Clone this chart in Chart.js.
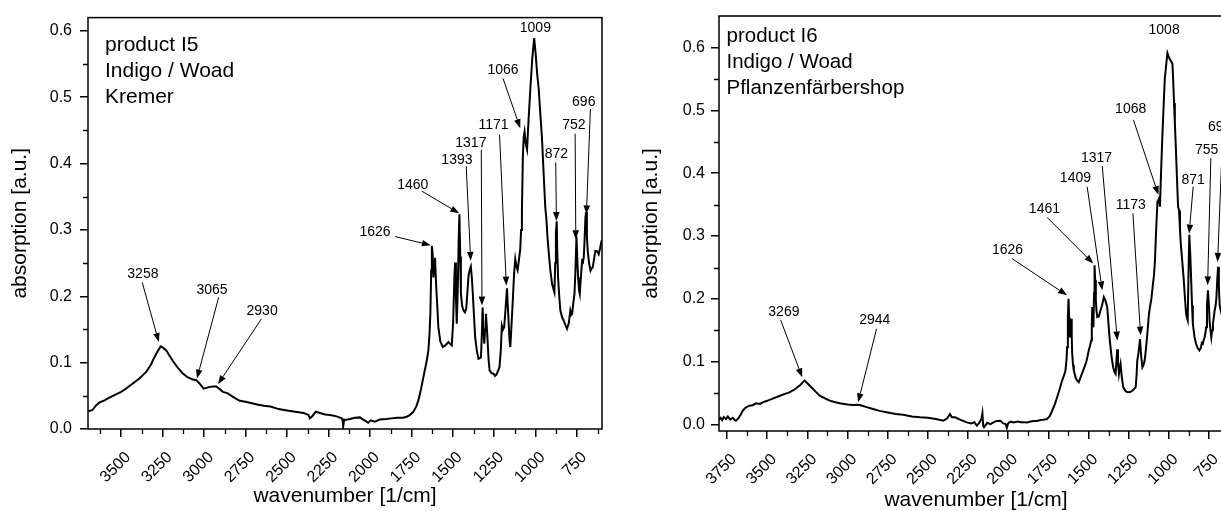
<!DOCTYPE html>
<html><head><meta charset="utf-8">
<script src="https://cdn.jsdelivr.net/npm/chart.js@4.4.1/dist/chart.umd.min.js"></script>
<style>
html,body{margin:0;padding:0;background:#fff;width:1221px;height:511px;overflow:hidden;position:relative;}
.wrap{position:absolute;top:0;height:511px;width:610px;}
#w1{left:0}
#w2{left:631px}
canvas{display:block}
</style></head><body>
<div class="wrap" id="w1"><canvas id="c1" width="610" height="511"></canvas></div>
<div class="wrap" id="w2"><canvas id="c2" width="610" height="511"></canvas></div>
<script>
// ---------- product I5 (Kremer) ----------
const i5Wavenumber = [
 3702,3690,3672,3650,3631,3600,3591,3550,3500,3470,
 3430,3390,3349,3320,3309,3285,3262,3250,3228,3210,
 3188,3160,3128,3100,3067,3047,3025,3003,2985,2966,
 2940,2926,2905,2886,2860,2825,2785,2750,2725,2680,
 2640,2600,2550,2500,2450,2400,2382,2370,2362,2345,
 2326,2300,2270,2241,2200,2170,2163,2161,2155,2150,
 2120,2090,2060,2040,2020,2010,1995,1970,1939,1900,
 1870,1838,1800,1778,1760,1738,1720,1707,1690,1677,
 1660,1647,1640,1635,1630,1626,1621,1617,1612,1607,
 1600,1593,1587,1575,1560,1545,1526,1515,1506,1498,
 1490,1486,1481,1476,1470,1464,1460,1455,1451,1443,
 1435,1427,1419,1412,1405,1398,1391,1385,1379,1372,
 1365,1355,1345,1337,1330,1325,1320,1315,1310,1305,
 1300,1295,1290,1284,1278,1265,1254,1245,1238,1228,
 1218,1210,1204,1197,1190,1182,1173,1165,1158,1153,
 1145,1137,1130,1123,1116,1109,1101,1093,1088,1083,
 1077,1072,1067,1060,1052,1042,1032,1020,1009,1000,
 991,982,972,962,952,942,936,929,922,912,
 901,894,887,882,878,873,870,865,858,851,
 840,831,820,811,800,791,785,780,773,766,
 760,754,748,744,739,734,727,720,715,710,
 705,700,696,691,686,678,669,662,656,648,
 640,630,620,612,605,600
];
const i5Absorption = [
 0.0275,0.027,0.029,0.036,0.040,0.043,0.0445,0.050,0.056,0.061,
 0.0685,0.076,0.086,0.097,0.1035,0.115,0.1245,0.123,0.1185,0.111,
 0.1025,0.093,0.0835,0.078,0.0745,0.0735,0.068,0.061,0.062,0.0635,
 0.064,0.064,0.060,0.056,0.054,0.0485,0.0425,0.041,0.0395,0.037,
 0.035,0.034,0.030,0.028,0.026,0.024,0.0225,0.021,0.016,0.020,
 0.026,0.024,0.022,0.021,0.019,0.016,0.012,0.0035,0.014,0.0135,
 0.015,0.017,0.0175,0.014,0.011,0.0095,0.013,0.011,0.0145,0.015,
 0.016,0.017,0.017,0.0185,0.021,0.026,0.034,0.0435,0.062,0.0785,
 0.099,0.1185,0.145,0.175,0.24,0.276,0.262,0.2285,0.245,0.258,
 0.215,0.1835,0.1535,0.132,0.1235,0.126,0.131,0.128,0.126,0.16,
 0.23,0.251,0.20,0.1585,0.21,0.29,0.3235,0.26,0.2035,0.185,
 0.1785,0.176,0.181,0.205,0.231,0.240,0.245,0.228,0.2035,0.17,
 0.1385,0.118,0.106,0.107,0.108,0.14,0.183,0.155,0.1285,0.15,
 0.1735,0.155,0.1335,0.105,0.0885,0.084,0.0835,0.080,0.0815,0.087,
 0.0935,0.12,0.156,0.150,0.1535,0.18,0.212,0.17,0.135,0.1235,
 0.16,0.1985,0.235,0.256,0.245,0.2395,0.255,0.271,0.30,0.3285,
 0.4135,0.44,0.448,0.43,0.421,0.47,0.5135,0.56,0.589,0.565,
 0.535,0.5135,0.475,0.4385,0.385,0.3335,0.3185,0.29,0.2685,0.24,
 0.2185,0.212,0.206,0.25,0.295,0.313,0.27,0.2285,0.20,0.1785,
 0.168,0.1635,0.156,0.151,0.16,0.1785,0.172,0.1735,0.19,0.2035,
 0.24,0.29,0.25,0.2285,0.21,0.2035,0.23,0.2535,0.252,0.2585,
 0.285,0.3185,0.327,0.29,0.2685,0.25,0.2385,0.242,0.2435,0.256,
 0.2685,0.268,0.2635,0.272,0.281,0.285
];
const i5XTicks = [3500,3250,3000,2750,2500,2250,2000,1750,1500,1250,1000,750];
const i5YTicks = [0.0,0.1,0.2,0.3,0.4,0.5,0.6];
const i5PeakLabels = ['3258','3065','2930','1626','1460','1393','1317','1171','1066','1009','872','752','696'];
const i5LabelX = [3369,2952,2650,1969,1741,1475,1391,1254,1197,1002,875,770,710];
const i5LabelY = [0.2335,0.2095,0.1774,0.297,0.367,0.4045,0.431,0.4585,0.541,0.6034,0.4135,0.4575,0.4924];
const i5TailX = [3373,2912,2654,1848,1687,1419,1328,1218,1197,null,879,762,670];
const i5TailY = [0.221,0.1984,0.166,0.29,0.3585,0.396,0.421,0.4435,0.5284,null,0.402,0.445,0.4825];
const i5HeadX = [3273,3043,2916,1632,1461,1392,1324,1177,1093,null,875,758,694];
const i5HeadY = [0.131,0.076,0.0675,0.277,0.325,0.2535,0.186,0.216,0.4534,null,0.3135,0.286,0.3235];
const i5Caption = ['product I5','Indigo / Woad','Kremer'];

// ---------- product I6 (Pflanzenfärbershop) ----------
const i6Wavenumber = [
 3802,3790,3780,3770,3756,3745,3730,3715,3700,3694,
 3680,3665,3652,3635,3611,3590,3570,3545,3528,3500,
 3470,3444,3420,3390,3361,3330,3298,3280,3267,3250,
 3225,3200,3173,3140,3111,3080,3049,3000,2965,2944,
 2924,2880,2841,2800,2757,2700,2653,2600,2549,2500,
 2450,2403,2380,2362,2350,2330,2300,2257,2230,2210,
 2195,2180,2165,2160,2155,2150,2130,2110,2091,2070,
 2049,2030,2015,2008,2000,1985,1966,1940,1920,1900,
 1883,1860,1840,1820,1799,1780,1758,1740,1726,1710,
 1695,1680,1664,1650,1643,1636,1633,1628,1624,1620,
 1616,1610,1607,1604,1601,1596,1591,1580,1570,1560,
 1545,1529,1513,1498,1490,1483,1479,1476,1472,1469,
 1465,1462,1458,1454,1450,1445,1435,1425,1415,1404,
 1395,1383,1375,1367,1356,1346,1338,1331,1326,1321,
 1316,1310,1305,1300,1292,1283,1270,1258,1240,1227,
 1215,1206,1200,1196,1188,1179,1172,1164,1157,1150,
 1143,1137,1130,1123,1115,1108,1100,1092,1086,1081,
 1075,1070,1065,1060,1055,1048,1040,1033,1025,1015,
 1008,1000,992,985,977,972,967,962,956,950,
 942,936,930,925,916,908,900,892,887,882,
 877,872,866,861,855,850,840,830,820,809,
 800,794,788,782,777,772,767,762,756,750,
 746,740,735,730,725,720,714,708,703,698,
 693,688,683,675,666,655,645,630,615,600
];
const i6Absorption = [
 0.008,0.011,0.007,0.012,0.009,0.013,0.008,0.011,0.007,0.0064,
 0.010,0.016,0.0223,0.027,0.0303,0.031,0.034,0.033,0.0356,0.038,
 0.041,0.0436,0.046,0.049,0.0515,0.056,0.0622,0.067,0.0702,0.066,
 0.0595,0.053,0.0463,0.042,0.0383,0.036,0.034,0.032,0.0314,0.0318,
 0.0314,0.028,0.025,0.022,0.0197,0.017,0.0159,0.013,0.0117,0.011,
 0.009,0.0064,0.010,0.017,0.012,0.0117,0.008,0.0037,0.002,0.004,
 -0.0016,0.003,0.01,0.018,-0.002,-0.004,0.003,0.001,0.0037,0.006,
 0.0064,0.002,0.001,-0.005,0.002,0.005,0.0037,0.005,0.004,0.004,
 0.0037,0.005,0.006,0.006,0.0075,0.008,0.009,0.014,0.0223,0.032,
 0.0436,0.056,0.0702,0.08,0.0861,0.105,0.1233,0.17,0.2004,0.17,
 0.139,0.16,0.1686,0.14,0.1127,0.095,0.0861,0.075,0.07,0.0675,
 0.078,0.0888,0.10,0.118,0.126,0.134,0.16,0.187,0.16,0.155,
 0.21,0.2536,0.23,0.198,0.182,0.171,0.172,0.182,0.19,0.203,
 0.198,0.187,0.16,0.134,0.108,0.0914,0.084,0.0808,0.10,0.12,
 0.10,0.0808,0.09,0.0967,0.075,0.0595,0.054,0.0515,0.052,0.054,
 0.057,0.0595,0.08,0.102,0.115,0.136,0.11,0.0914,0.095,0.102,
 0.118,0.134,0.155,0.1765,0.19,0.20,0.22,0.2376,0.26,0.2935,
 0.33,0.355,0.357,0.36,0.3466,0.40,0.458,0.50,0.5486,0.575,
 0.591,0.585,0.5805,0.578,0.574,0.545,0.5115,0.48,0.442,0.40,
 0.3466,0.341,0.31,0.288,0.26,0.235,0.205,0.1765,0.17,0.166,
 0.24,0.302,0.27,0.235,0.19,0.1606,0.14,0.1287,0.122,0.118,
 0.122,0.13,0.1287,0.135,0.139,0.145,0.155,0.19,0.2137,0.19,
 0.166,0.15,0.139,0.15,0.1606,0.17,0.182,0.19,0.203,0.23,
 0.251,0.22,0.19,0.18,0.171,0.172,0.18,0.19,0.195,0.20
];
const i6XTicks = [3750,3500,3250,3000,2750,2500,2250,2000,1750,1500,1250,1000,750];
const i6YTicks = [0.0,0.1,0.2,0.3,0.4,0.5,0.6];
const i6PeakLabels = ['3269','2944','1626','1461','1409','1317','1173','1068','1008','871','755','699'];
const i6LabelX = [3396,2830,2004,1774,1581,1450,1237,1237,1029,848,764,683];
const i6LabelY = [0.179,0.166,0.2775,0.3424,0.3919,0.4238,0.3493,0.5019,0.6273,0.389,0.437,0.4732];
const i6TailX = [3417,2819,1976,1757,1508,1414,1223,1220,null,848,738,664];
const i6TailY = [0.167,0.1526,0.2643,0.3297,0.3785,0.4115,0.336,0.4849,null,0.3785,0.4238,0.4636];
const i6HeadX = [3282,2934,1633,1470,1414,1320,1175,1064,null,873,758,696];
const i6HeadY = [0.0754,0.0356,0.2057,0.2563,0.2137,0.134,0.142,0.3652,null,0.304,0.2217,0.2589];
const i6Caption = ['product I6','Indigo / Woad','Pflanzenfärbershop'];

const xAxisTitle = 'wavenumber [1/cm]';
const yAxisTitle = 'absorption [a.u.]';

// ---------- rendering ----------
const FONT = "'Liberation Sans', Arial, Helvetica, sans-serif";
Chart.defaults.font.family = FONT;
Chart.defaults.color = '#000';

function drawArrow(ctx, x1, y1, x2, y2) {
  const ang = Math.atan2(y2 - y1, x2 - x1), L = 9, W = 3.3;
  const bx = x2 - L * Math.cos(ang), by = y2 - L * Math.sin(ang);
  ctx.beginPath(); ctx.moveTo(x1, y1); ctx.lineTo(bx, by); ctx.stroke();
  ctx.beginPath(); ctx.moveTo(x2, y2);
  ctx.lineTo(bx + W * Math.sin(ang), by - W * Math.cos(ang));
  ctx.lineTo(bx - W * Math.sin(ang), by + W * Math.cos(ang));
  ctx.closePath(); ctx.fill();
}

const spectrumDecor = {
  id: 'spectrumDecor',
  afterDraw(chart, args, o) {
    const { ctx, chartArea: a, scales: { x, y } } = chart;
    ctx.save();
    // frame
    ctx.strokeStyle = '#000'; ctx.lineWidth = 1.5;
    ctx.strokeRect(a.left, a.top, a.right - a.left, a.bottom - a.top);
    // minor ticks halfway between major ones
    ctx.lineWidth = 1.3;
    ctx.beginPath();
    const xmin = Math.min(x.min, x.max), xmax = Math.max(x.min, x.max);
    const xt = x.ticks.map(t => t.value);
    const xs = Math.abs(xt[1] - xt[0]);
    const xminor = xt.map(v => v + xs / 2).concat([Math.min(...xt) - xs / 2]);
    xminor.forEach(v => {
      if (v <= xmin || v >= xmax) return;
      const px = Math.round(x.getPixelForValue(v)) + 0.5;
      ctx.moveTo(px, a.bottom); ctx.lineTo(px, a.bottom + 5);
    });
    const yt = y.ticks.map(t => t.value);
    const ys = Math.abs(yt[1] - yt[0]);
    const yminor = yt.map(v => v + ys / 2).concat([Math.min(...yt) - ys / 2]);
    yminor.forEach(v => {
      if (v <= y.min + 1e-9 || v >= y.max - 1e-9) return;
      const py = Math.round(y.getPixelForValue(v)) + 0.5;
      ctx.moveTo(a.left, py); ctx.lineTo(a.left - 5, py);
    });
    ctx.stroke();
    // peak annotations
    ctx.fillStyle = '#000'; ctx.strokeStyle = '#000'; ctx.lineWidth = 1;
    ctx.font = o.noteSize + 'px ' + FONT;
    ctx.textAlign = 'center'; ctx.textBaseline = 'middle';
    (o.labels || []).forEach((lab, i) => {
      ctx.fillText(lab, x.getPixelForValue(o.lx[i]), y.getPixelForValue(o.ly[i]));
      if (o.tx[i] != null) {
        drawArrow(ctx, x.getPixelForValue(o.tx[i]), y.getPixelForValue(o.ty[i]),
                  x.getPixelForValue(o.hx[i]), y.getPixelForValue(o.hy[i]));
      }
    });
    // caption
    ctx.font = o.captionSize + 'px ' + FONT;
    ctx.textAlign = 'left'; ctx.textBaseline = 'alphabetic';
    (o.caption || []).forEach((t, i) => {
      ctx.fillText(t, a.left + o.capDx, a.top + o.capDy + i * o.capGap);
    });
    ctx.restore();
  }
};

function makeChart(id, wn, ab, xTicks, yTicks, cfg) {
  const data = wn.map((w, i) => ({ x: w, y: ab[i] }));
  return new Chart(document.getElementById(id), {
    type: 'line',
    data: { datasets: [{ data, borderColor: '#000', borderWidth: 2, pointRadius: 0, fill: false, tension: 0 }] },
    plugins: [spectrumDecor],
    options: {
      responsive: false, animation: false,
      layout: { padding: { top: 16, right: 8, left: 0, bottom: 0 } },
      plugins: {
        legend: { display: false }, tooltip: { enabled: false },
        spectrumDecor: cfg.decor
      },
      scales: {
        x: {
          type: 'linear', reverse: true, min: cfg.xmin, max: cfg.xmax,
          afterBuildTicks(s) { s.ticks = xTicks.map(v => ({ value: v })); },
          afterFit(s) { s.height = cfg.xAxisH; },
          border: { display: false },
          grid: { drawOnChartArea: false, color: '#000', lineWidth: 1.5, tickLength: 8 },
          ticks: { autoSkip: false, minRotation: 45, maxRotation: 45, padding: cfg.xTickPad, labelOffset: 7,
                   color: '#000', font: { size: 16 }, callback: v => String(v) },
          title: { display: true, text: xAxisTitle, color: '#000', font: { size: 21 },
                   padding: { top: 0, bottom: cfg.xTitlePad } }
        },
        y: {
          type: 'linear', min: cfg.ymin, max: cfg.ymax,
          afterBuildTicks(s) { s.ticks = yTicks.map(v => ({ value: v })); },
          afterFit(s) { s.width = 88; },
          border: { display: false },
          grid: { drawOnChartArea: false, color: '#000', lineWidth: 1.5, tickLength: 8 },
          ticks: { padding: cfg.yTickPad, color: '#000', font: { size: 16 },
                   callback: v => Number(v).toFixed(1) },
          title: { display: true, text: yAxisTitle, color: '#000', font: { size: 21 },
                   padding: { top: 8, bottom: 0 } }
        }
      }
    }
  });
}

makeChart('c1', i5Wavenumber, i5Absorption, i5XTicks, i5YTicks, {
  xmin: 600, xmax: 3700, ymin: 0, ymax: 0.62, xAxisH: 82, xTickPad: 11, xTitlePad: 2, yTickPad: 8,
  decor: { labels: i5PeakLabels, lx: i5LabelX, ly: i5LabelY, tx: i5TailX, ty: i5TailY, hx: i5HeadX, hy: i5HeadY,
           noteSize: 14, caption: i5Caption, captionSize: 21, capDx: 17, capDy: 33.5, capGap: 25.7 }
});
makeChart('c2', i6Wavenumber, i6Absorption, i6XTicks, i6YTicks, {
  xmin: 600, xmax: 3800, ymin: -0.01, ymax: 0.65, xAxisH: 80, xTickPad: 11, xTitlePad: -2, yTickPad: 6,
  decor: { labels: i6PeakLabels, lx: i6LabelX, ly: i6LabelY, tx: i6TailX, ty: i6TailY, hx: i6HeadX, hy: i6HeadY,
           noteSize: 14, caption: i6Caption, captionSize: 20.5, capDx: 7.5, capDy: 25.7, capGap: 26.3 }
});
</script>
</body></html>
